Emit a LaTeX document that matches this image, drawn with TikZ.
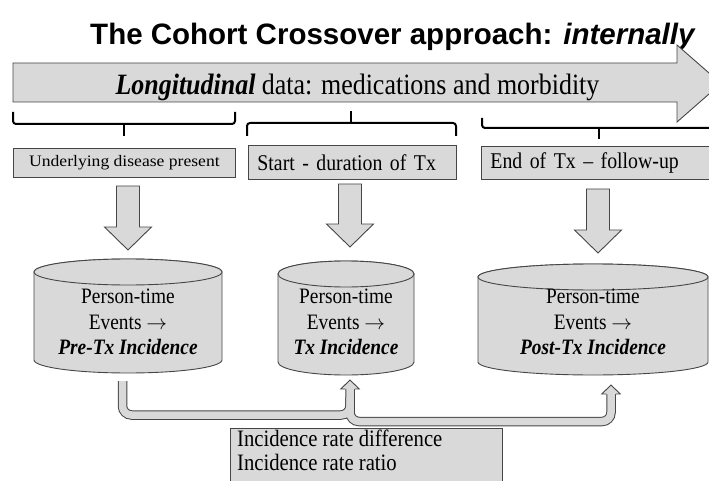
\documentclass[tikz,border=0pt]{standalone}
\usepackage{fontspec}
\setmainfont{Liberation Serif}[FakeStretch=0.88]
\newfontfamily\titlefont{Liberation Sans}
\newfontfamily\widefont{Liberation Serif}[FakeStretch=1.1]
\usetikzlibrary{calc}

\definecolor{boxgray}{RGB}{217,217,217}
\definecolor{edgegray}{RGB}{70,70,70}

\tikzset{
  panel/.style={draw=edgegray, fill=boxgray, line width=0.9pt},
  phasebox/.style={panel, anchor=north west, inner xsep=9pt, inner ysep=0pt,
    align=left, font=\fontsize{22.5}{24}\selectfont},
  bracket/.style={line width=2pt, rounded corners=3pt},
  pipe/.style={line width=9.5pt, draw=edgegray, rounded corners=9pt},
  pipefill/.style={line width=7.5pt, draw=boxgray, rounded corners=9pt},
  celltext/.style={align=center, font=\fontsize{22}{25.5}\selectfont},
}

% drum: centre x, top y, bottom y, x radius, y radius
\newcommand\drum[5]{%
  \draw[panel] (#1-#4,#2) -- (#1-#4,#3) arc (180:0:#4 and #5)
    -- (#1+#4,#2) arc (0:-180:#4 and #5) -- cycle;
  \draw[panel] (#1,#2) ellipse (#4 and #5);
}

\begin{document}
\begin{tikzpicture}[x=1pt,y=-1pt]
  \useasboundingbox (0,0) rectangle (709,481);
  \clip (0,0) rectangle (709,481);

  \node[anchor=base, font=\titlefont\bfseries\fontsize{29.5}{32}\selectfont] (title)
    at (393,45) {The Cohort Crossover approach: \textit{internally}};

  % time line
  \filldraw[panel] (13,63) -- (677,63) -- (677,45) -- (721,83.5) -- (677,122)
    -- (677,102) -- (13,102) -- cycle;
  \node[anchor=base west, font=\fontsize{29.5}{31}\selectfont] (long) at (112,95)
    {\textbf{\textit{Longitudinal}} data: medications and morbidity};

  % brackets
  \draw[bracket] (13,112) |- (235,124) -- (235,112);
  \draw[bracket] (124,124) -- (124,136);
  \draw[bracket] (247,136) |- (456,123) -- (456,136);
  \draw[bracket] (351,123) -- (351,111);
  \draw[bracket] (482,118) |- (716,128) -- (716,118);
  \draw[bracket] (599,128) -- (599,139);

  % phases
  \node[panel, anchor=north west, minimum width=222, minimum height=29, inner sep=0pt,
    font=\widefont\fontsize{16}{18}\selectfont] (under) at (13,148)
    {Underlying disease present};
  \node[phasebox, text width=190, minimum height=34] (start) at (248,145)
    {Start - duration of Tx};
  \node[phasebox, text width=216, minimum height=33] (end) at (481,146)
    {End of Tx -- follow-up};

  % down arrows
  \foreach \x/\ya/\yb in {128/186/250, 350/184/247, 598/189/253}
    \filldraw[panel] (\x-11.5,\ya) -- (\x-11.5,\yb-23) -- (\x-23.5,\yb-23) -- (\x,\yb)
      -- (\x+23.5,\yb-23) -- (\x+11.5,\yb-23) -- (\x+11.5,\ya) -- cycle;

  % person-time stores
  \drum{128}{272}{360}{94}{13}
  \drum{346}{274}{362}{68}{13}
  \drum{593}{277}{362}{115}{13}
  \node[celltext] (pre) at (128,322)
    {Person-time\\Events $\rightarrow$\\\textbf{\textit{Pre-Tx Incidence}}};
  \node[celltext] (tx) at (346,322)
    {Person-time\\Events $\rightarrow$\\\textbf{\textit{Tx Incidence}}};
  \node[celltext] (post) at (593,322)
    {Person-time\\Events $\rightarrow$\\\textbf{\textit{Post-Tx Incidence}}};

  % comparisons
  \coordinate (pre-out) at (122.5,381);
  \coordinate (tx-split) at (350,397);
  \coordinate (tx-in) at (350,389);
  \coordinate (post-in) at (611,394);
  \draw[pipe] (pre-out) -- (122.5,415) -| (tx-in);
  \draw[pipe] (tx-split) -- (350,421.5) -| (post-in);
  \draw[pipefill] (pre-out) -- (122.5,415) -| (tx-in);
  \draw[pipefill] (tx-split) -- (350,421.5) -| (post-in);
  \foreach \c in {tx-in,post-in}
    \filldraw[draw=edgegray, fill=boxgray, line width=0.9pt]
      ($(\c)+(-4.75,0)$) -- ++(-4.5,0) -- ++(9.25,-9) -- ++(9.25,9) -- ++(-4.5,0);

  \draw[panel] (230,428) rectangle (502,495);
  \node[anchor=north west, align=left, inner sep=0pt,
    font=\fontsize{23.5}{24}\selectfont] (rates) at (237,430)
    {Incidence rate difference\\Incidence rate ratio};
\end{tikzpicture}
\end{document}
